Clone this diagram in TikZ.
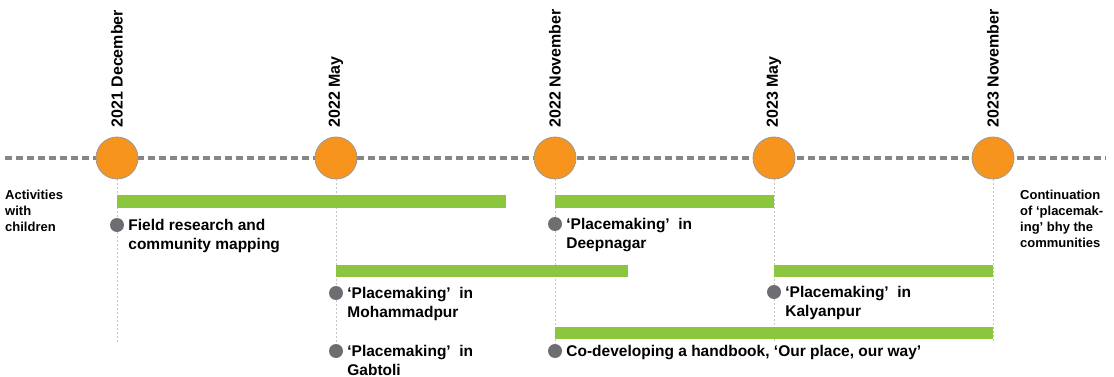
\documentclass[tikz,border=0pt]{standalone}
\usepackage{fontspec}
\setmainfont{Liberation Sans}
\usepackage{tikz}
\usetikzlibrary{positioning}
\definecolor{bargreen}{HTML}{8CC63F}
\definecolor{dotorange}{HTML}{F7941D}
\definecolor{dotgray}{HTML}{6D6E71}
\definecolor{linegray}{HTML}{85868A}

\begin{document}
\begin{tikzpicture}[x=1pt, y=-1pt,
  month/.style = {draw=gray!80, fill=dotorange, circle, minimum size=42pt, inner sep=0pt, line width=0.8pt},
  date/.style = {rotate=90, anchor=west, inner sep=0pt, font=\fontsize{16}{19}\selectfont\bfseries},
  dot/.style = {fill=dotgray, circle, minimum size=14pt, inner sep=0pt},
  task/.style = {anchor=north west, align=left, inner sep=0pt, font=\fontsize{15.5}{18.6}\selectfont\bfseries},
  side/.style = {anchor=north west, align=left, inner sep=0pt, font=\fontsize{13}{15.8}\selectfont\bfseries},
  bar/.style = {fill=bargreen},
  guide/.style = {draw=gray!45, line width=0.7pt, dash pattern=on 2pt off 2pt}]
\useasboundingbox (0,0) rectangle (1114,377);
%timeline
\coordinate (tl) at (5,158);
\coordinate (tr) at (1106,158);
\draw[linegray, line width=3.5pt, dash pattern=on 7pt off 4pt] (tl) -- (tr);
%months
\node[month] (m1) at (117,158) {};
\node[month] (m2) at (336,158) {};
\node[month] (m3) at (555,158) {};
\node[month] (m4) at (774,158) {};
\node[month] (m5) at (993,158) {};
\node[date] (y1) at ([yshift=9pt]m1.north) {2021 December};
\node[date] (y2) at ([yshift=9pt]m2.north) {2022 May};
\node[date] (y3) at ([yshift=9pt]m3.north) {2022 November};
\node[date] (y4) at ([yshift=9pt]m4.north) {2023 May};
\node[date] (y5) at ([yshift=9pt]m5.north) {2023 November};
%dots
\node[dot] (d1) at (m1 |- 0,225) {};
\node[dot] (d2) at (m3 |- 0,224) {};
\node[dot] (d3) at (m2 |- 0,293) {};
\node[dot] (d4) at (m4 |- 0,292) {};
\node[dot] (d5) at (m2 |- 0,351) {};
\node[dot] (d6) at (m3 |- 0,351) {};
%guides
\coordinate (g1) at (m1 |- 0,342);
\coordinate (g4) at (m4 |- 0,341);
\coordinate (g5) at (m5 |- 0,341);
\draw[guide] (m1) -- (d1) -- (g1);
\draw[guide] (m2) -- (d3) -- (d5);
\draw[guide] (m3) -- (d2) -- (d6);
\draw[guide] (m4) -- (d4) -- (g4);
\draw[guide] (m5) -- (g5);
%bars
\fill[bar] (m1 |- 0,195) rectangle (506,207.5);
\fill[bar] (m3 |- 0,195) rectangle (m4 |- 0,207.5);
\fill[bar] (m2 |- 0,264.5) rectangle (628,277);
\fill[bar] (m4 |- 0,264.5) rectangle (m5 |- 0,277);
\fill[bar] (m3 |- 0,326.5) rectangle (m5 |- 0,339);
%texts
\node[task] (t1) at ([xshift=4pt, yshift=5.8pt]d1.east) {Field research and\\community mapping};
\node[task] (t2) at ([xshift=4pt, yshift=5.8pt]d2.east) {‘Placemaking’\ \ in\\Deepnagar};
\node[task] (t3) at ([xshift=4pt, yshift=5.8pt]d3.east) {‘Placemaking’\ \ in\\Mohammadpur};
\node[task] (t4) at ([xshift=4pt, yshift=5.8pt]d4.east) {‘Placemaking’\ \ in\\Kalyanpur};
\node[task] (t5) at ([xshift=4pt, yshift=5.8pt]d5.east) {‘Placemaking’\ \ in\\Gabtoli};
\node[task] (t6) at ([xshift=4pt, yshift=5.8pt]d6.east) {Co-developing a handbook, ‘Our place, our way’};
\node[side] (left) at (5,190) {Activities\\with\\children};
\node[side] (right) at (1020,190) {Continuation\\of ‘placemak-\\ing’ bhy the\\communities};
\end{tikzpicture}
\end{document}
